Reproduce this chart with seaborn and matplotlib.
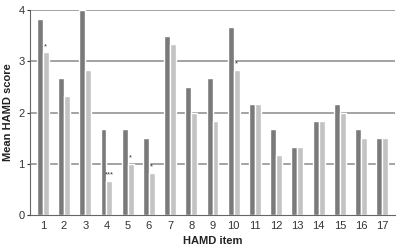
import matplotlib
matplotlib.use("Agg")
import matplotlib.pyplot as plt
import seaborn as sns
import pandas as pd

items = [str(i) for i in range(1, 18)]
group_a = [3.83, 2.67, 4.0, 1.67, 1.67, 1.5, 3.5, 2.5, 2.67, 3.67, 2.17, 1.67, 1.33, 1.83, 2.17, 1.67, 1.5]
group_b = [3.17, 2.33, 2.83, 0.67, 1.0, 0.83, 3.33, 2.0, 1.83, 2.83, 2.17, 1.17, 1.33, 1.83, 2.0, 1.5, 1.5]
sig_items = ["1", "4", "5", "6", "10"]
sig_marks = ["*", "***", "*", "*", "*"]

df = pd.DataFrame({
    "item": items * 2,
    "score": group_a + group_b,
    "group": ["A"] * len(items) + ["B"] * len(items),
})

sns.set_style("white")
plt.rcParams["font.family"] = ["Liberation Sans", "DejaVu Sans"]

fig = plt.figure(figsize=(4.01, 2.46), dpi=100)
ax = fig.add_axes([0.075, 0.125, 0.91, 0.835])

for y in [1, 2, 3, 4]:
    ax.axhline(y, color="#8a8a8a", lw=1.1, linestyle="-", zorder=0)

sns.barplot(data=df, x="item", y="score", hue="group", order=items,
            palette=["#7a7a7b", "#c3c3c3"], width=0.56, gap=0,
            legend=False, ax=ax, zorder=2, saturation=1)

for it, m in zip(sig_items, sig_marks):
    i = items.index(it)
    v = group_b[i]
    x = i + 0.14
    ax.text(x, v + 0.04, m, ha="center", va="bottom", fontsize=5.5, color="#333333")

ax.set_ylim(0, 4)
ax.set_xlim(-0.6, 16.6)
ax.set_yticks([0, 1, 2, 3, 4])
ax.tick_params(axis="both", labelsize=8, colors="#333333", length=2, pad=2)
ax.tick_params(axis="x", length=0, pad=4)
ax.tick_params(axis="y", left=True)
for s in ["top", "right"]:
    ax.spines[s].set_visible(False)
ax.spines["left"].set_color("#666666")
ax.spines["bottom"].set_color("#666666")
ax.set_xlabel("HAMD item", fontsize=8, fontweight="bold", color="#222222", labelpad=4)
ax.set_ylabel("Mean HAMD score", fontsize=8, fontweight="bold", color="#222222", labelpad=4)

fig.savefig("out.png", dpi=100)
